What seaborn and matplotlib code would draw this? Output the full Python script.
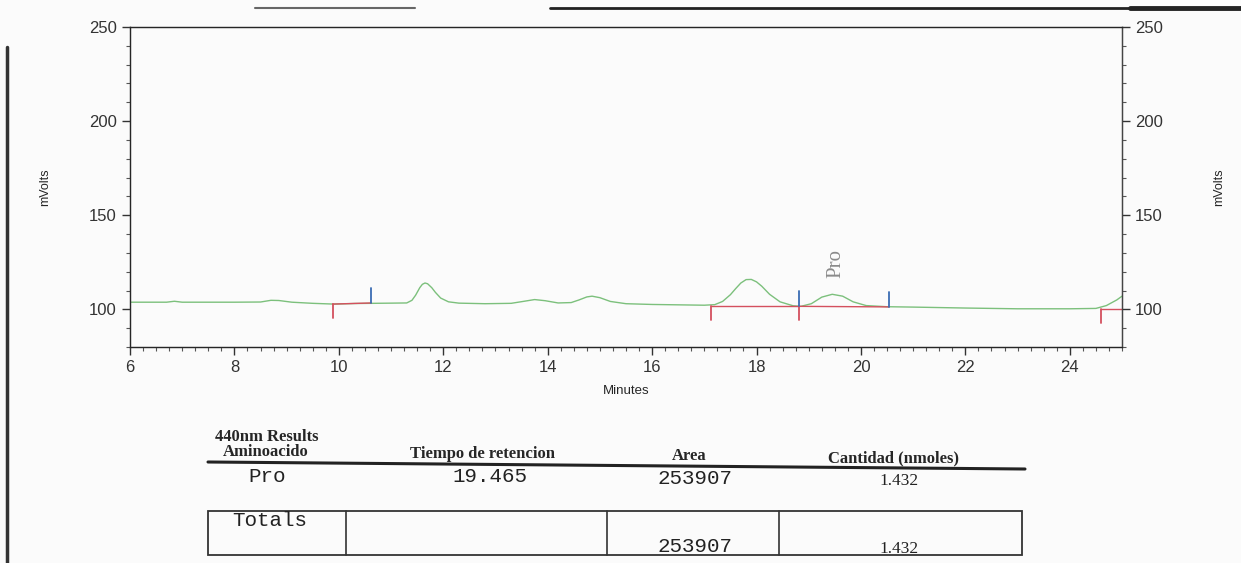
import seaborn as sns
import numpy as np
import pandas as pd
import matplotlib.pyplot as plt
from matplotlib.lines import Line2D
from matplotlib.ticker import MultipleLocator

# trace (minutes, mVolts)
minutes = [6.0, 6.7, 6.85, 7.0, 8.0, 8.5, 8.7, 8.85, 9.1, 9.5, 9.9, 10.3, 11.0, 11.3,
           11.4, 11.47, 11.55, 11.6, 11.65, 11.7, 11.78, 11.85, 11.95, 12.1, 12.3, 12.8,
           13.3, 13.55, 13.75, 13.95, 14.2, 14.45, 14.6, 14.75, 14.85, 15.0, 15.2, 15.5,
           16.0, 16.5, 17.0, 17.2, 17.35, 17.5, 17.6, 17.7, 17.8, 17.9, 18.0, 18.1, 18.25,
           18.45, 18.7, 18.85, 19.05, 19.25, 19.45, 19.65, 19.85, 20.1, 20.5, 21.0, 22.0,
           23.0, 24.0, 24.5, 24.7, 24.9, 25.0]
mvolts = [103.8, 103.8, 104.3, 103.8, 103.8, 103.9, 104.8, 104.7, 103.8, 103.2, 102.8,
          103.1, 103.3, 103.4, 104.8, 107.5, 111.5, 113.3, 114.0, 113.6, 111.5, 109.0,
          106.0, 104.0, 103.3, 103.0, 103.2, 104.3, 105.2, 104.6, 103.4, 103.6, 105.0,
          106.6, 107.0, 106.2, 104.2, 103.0, 102.6, 102.4, 102.2, 102.5, 104.2, 107.8,
          111.0, 114.0, 115.8, 115.9, 114.6, 112.3, 108.0, 104.0, 101.9, 101.6, 103.0,
          106.5, 108.0, 107.0, 104.0, 102.0, 101.4, 101.2, 100.7, 100.3, 100.3, 100.5,
          102.0, 105.0, 107.0]

# integration events
start_times = [9.88, 17.12, 18.82, 24.59]
start_levels = [102.8, 101.6, 101.6, 100.3]
end_times = [10.62, 18.82, 20.54]
end_levels = [103.4, 101.6, 101.3]
base_x0 = [9.88, 17.12, 18.82, 24.59]
base_y0 = [102.8, 101.6, 101.6, 100.3]
base_x1 = [10.62, 18.82, 20.54, 25.0]
base_y1 = [103.4, 101.6, 101.3, 100.3]

peak_name = 'Pro'
peak_time = 19.52
peak_label_y = 124.5

# results table
table_title = '440nm Results'
col_headers = ['Aminoacido', 'Tiempo de retencion', 'Area', 'Cantidad (nmoles)']
row_values = ['Pro', '19.465', '253907', '1.432']
totals_label = 'Totals'
totals_area = '253907'
totals_amount = '1.432'

sns.set_style('ticks')
plt.rcParams['font.family'] = ['Liberation Sans', 'DejaVu Sans']

W, H = 1241, 563
fig = plt.figure(figsize=(W / 100, H / 100), dpi=100)
fig.patch.set_facecolor('#fbfbfb')


def fx(px):
    return px / W


def fy(py):
    return 1 - py / H


ax = fig.add_axes([fx(130), fy(347), fx(1122) - fx(130), fy(27) - fy(347)])
ax.set_facecolor('#fbfbfb')

df = pd.DataFrame({'Minutes': minutes, 'mVolts': mvolts})
sns.lineplot(data=df, x='Minutes', y='mVolts', ax=ax, color='#7cc07c', linewidth=1.0)

red = '#d4505e'
blue = '#3b6db3'
for x0, y0, x1, y1 in zip(base_x0, base_y0, base_x1, base_y1):
    ax.plot([x0, x1], [y0, y1], color=red, linewidth=1.0)
for t, lv in zip(start_times, start_levels):
    ax.plot([t, t], [lv, lv - 7.5], color=red, linewidth=1.3)
for t, lv in zip(end_times, end_levels):
    ax.plot([t, t], [lv, lv + 8], color=blue, linewidth=1.3)

ax.text(peak_time, peak_label_y, peak_name, rotation=90, ha='center', va='center',
        fontsize=15, color='#8a8a8a', family='Liberation Serif')

ax.set_xlim(6, 25)
ax.set_ylim(80, 250)
ax.xaxis.set_major_locator(MultipleLocator(2))
ax.xaxis.set_minor_locator(MultipleLocator(0.25))
ax.yaxis.set_major_locator(MultipleLocator(50))
ax.yaxis.set_minor_locator(MultipleLocator(10))
ax.tick_params(which='major', length=6, width=1, labelsize=12, colors='#333333')
ax.tick_params(which='minor', length=3, width=0.8, colors='#555555')
ax.set_xlabel('Minutes', fontsize=9.5, labelpad=7)
ax.set_ylabel('mVolts', fontsize=9, labelpad=27)
for s in ax.spines.values():
    s.set_color('#444444')
    s.set_linewidth(1.0)

ax2 = ax.twinx()
ax2.set_ylim(80, 250)
ax2.yaxis.set_major_locator(MultipleLocator(50))
ax2.yaxis.set_minor_locator(MultipleLocator(10))
ax2.tick_params(which='major', length=6, width=1, labelsize=12, colors='#333333')
ax2.tick_params(which='minor', length=3, width=0.8, colors='#555555')
ax2.set_ylabel('mVolts', fontsize=9, labelpad=36)
ax2.spines['right'].set_color('#444444')

# results table below the chart
serif = 'Liberation Serif'
mono = 'Liberation Mono'
fig.text(fx(215), fy(437), table_title, fontsize=12, fontweight='bold', family=serif,
         va='center')
header_x = [266, 482, 689, 894]
header_y = [452, 454, 456, 458]
for x, y, h in zip(header_x, header_y, col_headers):
    fig.text(fx(x), fy(y), h, fontsize=12, fontweight='bold', family=serif,
             ha='center', va='center')
fig.add_artist(Line2D([fx(208), fx(1025)], [fy(462), fy(469)], color='#222222',
                      linewidth=2.2))
row_x = [267, 490, 695, 899]
row_y = [476, 476, 479, 481]
for i, (x, y, v) in enumerate(zip(row_x, row_y, row_values)):
    fig.text(fx(x), fy(y), v, fontsize=12.5 if i == 3 else 15,
             family=serif if i == 3 else mono, ha='center', va='center', color='#222222')

box_l, box_r, box_t, box_b = 208, 1022, 511, 555
fig.add_artist(plt.Rectangle((fx(box_l), fy(box_b)), fx(box_r) - fx(box_l),
                             fy(box_t) - fy(box_b), fill=False, edgecolor='#333333',
                             linewidth=1.3))
for x in [346, 607, 779]:
    fig.add_artist(Line2D([fx(x), fx(x)], [fy(box_t), fy(box_b)], color='#333333',
                          linewidth=1.2))
fig.text(fx(270), fy(521), totals_label, fontsize=15, family=mono, ha='center',
         va='center', color='#222222')
fig.text(fx(695), fy(546), totals_area, fontsize=15, family=mono, ha='center',
         va='center', color='#222222')
fig.text(fx(899), fy(549), totals_amount, fontsize=12.5, family=serif, ha='center',
         va='center', color='#222222')

# scan edges
fig.add_artist(Line2D([fx(255), fx(415)], [fy(8), fy(8)], color='#666666', linewidth=1.5))
fig.add_artist(Line2D([fx(550), fx(1241)], [fy(8), fy(8)], color='#222222', linewidth=2))
fig.add_artist(Line2D([fx(1130), fx(1241)], [fy(8), fy(8)], color='#222222', linewidth=3.5))
fig.add_artist(Line2D([fx(7), fx(7)], [fy(47), fy(563)], color='#333333', linewidth=2.5))

fig.savefig('out.png', dpi=100, facecolor=fig.get_facecolor())
